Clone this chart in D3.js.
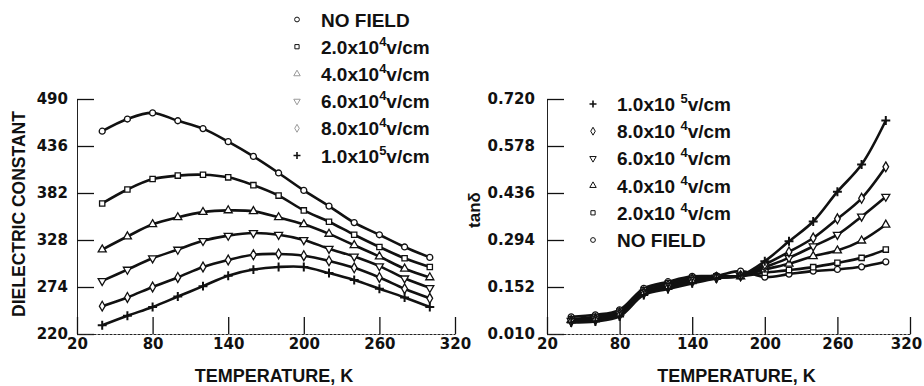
<!DOCTYPE html>
<html>
<head>
<meta charset="utf-8">
<script src="https://cdn.jsdelivr.net/npm/d3@7"></script>
<style>
body { margin: 0; background: #fff; }
svg { display: block; }
.tick text { font-family: "DejaVu Sans", sans-serif; font-weight: bold; font-size: 15px; fill: #111; }
.tick line { stroke: #111; stroke-width: 1.3; }
.domain { stroke: #222; stroke-width: 1; }
.title, .legend text { font-family: "Liberation Sans", Arial, sans-serif; font-weight: bold; fill: #111; }
</style>
</head>
<body>
<script>
// temperatures (K) shared by every series
const temps = [40, 60, 80, 100, 120, 140, 160, 180, 200, 220, 240, 260, 280, 300];
const xTicks = [20, 80, 140, 200, 260, 320];

// dielectric constant, left panel
const epsNoField = [453, 467, 474, 465, 456, 441, 424, 405, 385, 367, 348, 334, 320, 308];
const eps2e4 = [370, 386, 398, 402, 403, 400, 391, 379, 362, 349, 334, 320, 307, 297];
const eps4e4 = [317, 332, 346, 354, 360, 362, 361, 354, 346, 335, 322, 309, 295, 285];
const eps6e4 = [281, 294, 307, 317, 327, 333, 336, 334, 328, 318, 309, 298, 284, 273];
const eps8e4 = [252, 262, 274, 285, 297, 305, 311, 312, 310, 304, 296, 285, 272, 261];
const eps1e5 = [230, 241, 251, 263, 275, 287, 294, 297, 297, 290, 282, 272, 262, 251];
const epsTicks = [220, 274, 328, 382, 436, 490];

// loss tangent, right panel
const tanNoField = [0.062, 0.068, 0.083, 0.148, 0.168, 0.184, 0.186, 0.200, 0.182, 0.191, 0.200, 0.205, 0.213, 0.228];
const tan2e4 = [0.055, 0.062, 0.078, 0.143, 0.163, 0.180, 0.184, 0.185, 0.195, 0.203, 0.212, 0.225, 0.240, 0.265];
const tan4e4 = [0.052, 0.058, 0.074, 0.138, 0.158, 0.176, 0.182, 0.184, 0.205, 0.222, 0.245, 0.262, 0.292, 0.340];
const tan6e4 = [0.050, 0.055, 0.070, 0.135, 0.154, 0.172, 0.181, 0.185, 0.212, 0.240, 0.275, 0.310, 0.365, 0.425];
const tan8e4 = [0.048, 0.052, 0.067, 0.132, 0.150, 0.168, 0.180, 0.186, 0.220, 0.258, 0.300, 0.358, 0.420, 0.515];
const tan1e5 = [0.045, 0.048, 0.063, 0.128, 0.146, 0.163, 0.178, 0.187, 0.230, 0.290, 0.350, 0.440, 0.522, 0.655];
const tanTicks = [0.010, 0.152, 0.294, 0.436, 0.578, 0.720];

// legend labels: [base, superscript, unit]
const labNoField = ["NO FIELD", "", ""];
const lab2e4 = ["2.0x10", "4", "v/cm"];
const lab4e4 = ["4.0x10", "4", "v/cm"];
const lab6e4 = ["6.0x10", "4", "v/cm"];
const lab8e4 = ["8.0x10", "4", "v/cm"];
const lab1e5 = ["1.0x10", "5", "v/cm"];

const width = 924, height = 386;

const svg = d3.select('body').append('svg')
    .attr('width', width)
    .attr('height', height);

const markerPath = (shape, size) => {
    const types = {
        circle: d3.symbolCircle,
        square: d3.symbolSquare,
        up: d3.symbolTriangle,
        down: d3.symbolTriangle,
        diamond: d3.symbolDiamond,
        plus: d3.symbolPlus || d3.symbolCross
    };
    return d3.symbol(types[shape], size)();
};

class Panel {
    constructor(opts) {
        this.o = opts;
        this.g = svg.append('g');
        this.x = d3.scaleLinear().domain([20, 320]).range([opts.left, opts.right]);
        this.y = d3.scaleLinear().domain(opts.yDomain).range([334, 99]);
        this.drawAxes();
        this.drawSeries();
        this.drawLegend();
    }

    drawAxes() {
        const o = this.o;
        this.g.append('g')
            .attr('transform', `translate(${o.left},0)`)
            .call(d3.axisLeft(this.y).tickValues(o.yTicks).tickFormat(o.yFormat)
                .tickSizeInner(-17).tickSizeOuter(0).tickPadding(o.yPad));

        const xg = this.g.append('g')
            .attr('transform', 'translate(0,334)')
            .call(d3.axisBottom(this.x).tickValues(xTicks)
                .tickSizeInner(-17).tickSizeOuter(0).tickPadding(3));
        xg.select('.domain').attr('stroke', '#666').attr('stroke-dasharray', '3,1');
        xg.selectAll('.tick text').attr('dy', '0.78em');
        // keep the last label inside the window
        xg.selectAll('.tick text').filter(d => d === 320).attr('dx', o.lastDx);

        this.g.append('text')
            .attr('class', 'title')
            .attr('x', (o.left + o.right) / 2 + 8)
            .attr('y', 382)
            .attr('text-anchor', 'middle')
            .style('font-size', '18px')
            .text('TEMPERATURE, K');

        this.g.append('text')
            .attr('class', 'title')
            .attr('transform', `translate(${o.yTitleX},${o.yTitleY}) rotate(-90)`)
            .attr('text-anchor', 'middle')
            .style('font-size', o.yTitleSize)
            .text(o.yTitle);
    }

    drawSeries() {
        const line = d3.line()
            .x((d, i) => this.x(temps[i]))
            .y(d => this.y(d))
            .curve(d3.curveCatmullRom.alpha(0.5));

        this.o.series.forEach(s => {
            this.g.append('path')
                .attr('d', line(s.values))
                .attr('fill', 'none')
                .attr('stroke', '#111')
                .attr('stroke-width', 2.6);

            this.g.selectAll(null)
                .data(s.values)
                .enter().append('path')
                .attr('d', markerPath(s.shape, 28))
                .attr('transform', (d, i) =>
                    `translate(${this.x(temps[i])},${this.y(d)})` + (s.shape === 'down' ? ' rotate(180)' : ''))
                .attr('fill', s.shape === 'plus' ? 'none' : '#fff')
                .attr('stroke', '#111')
                .attr('stroke-width', s.shape === 'plus' ? 2 : 1.3);
        });
    }

    drawLegend() {
        const o = this.o;
        const lg = this.g.append('g').attr('class', 'legend');
        o.legend.forEach((s, i) => {
            const cy = o.legendTop + i * 27.2;
            lg.append('path')
                .attr('d', markerPath(s.shape, 18))
                .attr('transform', `translate(${o.legendX},${cy})` + (s.shape === 'down' ? ' rotate(180)' : ''))
                .attr('fill', s.shape === 'plus' ? 'none' : '#fff')
                .attr('stroke', s.faint ? '#999' : '#111')
                .attr('stroke-width', s.shape === 'plus' ? 1.6 : 1);

            const t = lg.append('text')
                .attr('x', o.legendX + 24)
                .attr('y', cy + 7)
                .style('font-size', '19px');
            t.append('tspan').text(s.label[0] + (s.label[1] ? o.supGap : ''));
            if (s.label[1]) {
                t.append('tspan').attr('dy', -8).style('font-size', '13px').text(s.label[1]);
                t.append('tspan').attr('dy', 8).text(s.label[2]);
            }
        });
    }
}

new Panel({
    left: 77, right: 455, lastDx: 0,
    yDomain: [220, 490], yTicks: epsTicks, yFormat: d3.format('d'), yPad: 9,
    yTitle: 'DIELECTRIC CONSTANT', yTitleX: 25, yTitleY: 214, yTitleSize: '17.5px',
    series: [
        { values: epsNoField, shape: 'circle' },
        { values: eps2e4, shape: 'square' },
        { values: eps4e4, shape: 'up' },
        { values: eps6e4, shape: 'down' },
        { values: eps8e4, shape: 'diamond' },
        { values: eps1e5, shape: 'plus' }
    ],
    legendX: 297, legendTop: 19.5, supGap: '',
    legend: [
        { label: labNoField, shape: 'circle' },
        { label: lab2e4, shape: 'square' },
        { label: lab4e4, shape: 'up', faint: true },
        { label: lab6e4, shape: 'down', faint: true },
        { label: lab8e4, shape: 'diamond', faint: true },
        { label: lab1e5, shape: 'plus' }
    ]
});

new Panel({
    left: 547, right: 910, lastDx: -4,
    yDomain: [0.010, 0.720], yTicks: tanTicks, yFormat: d3.format('.3f'), yPad: 12,
    yTitle: 'tanδ', yTitleX: 480, yTitleY: 210, yTitleSize: '17px',
    series: [
        { values: tanNoField, shape: 'circle' },
        { values: tan2e4, shape: 'square' },
        { values: tan4e4, shape: 'up' },
        { values: tan6e4, shape: 'down' },
        { values: tan8e4, shape: 'diamond' },
        { values: tan1e5, shape: 'plus' }
    ],
    legendX: 593, legendTop: 104, supGap: ' ',
    legend: [
        { label: lab1e5, shape: 'plus' },
        { label: lab8e4, shape: 'diamond' },
        { label: lab6e4, shape: 'down' },
        { label: lab4e4, shape: 'up' },
        { label: lab2e4, shape: 'square' },
        { label: labNoField, shape: 'circle' }
    ]
});
</script>
</body>
</html>
